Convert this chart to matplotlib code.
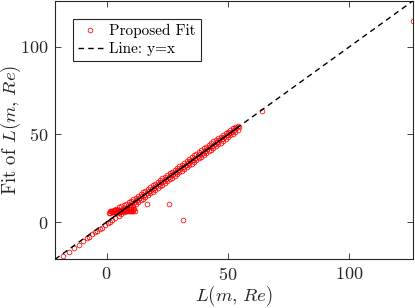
import matplotlib
matplotlib.use("Agg")
import matplotlib.pyplot as plt
import numpy as np

plt.rcParams['font.family'] = 'serif'
plt.rcParams['font.serif'] = ['cmr10']
plt.rcParams['mathtext.fontset'] = 'cm'
plt.rcParams['axes.formatter.use_mathtext'] = True

# ---- data ----
tail_x = [-21.2, -17.9, -15.7, -13.5, -11.4, -9.7, -8.2, -7.1, -5.9, -4.8, -4.0, -2.9, -1.8, -0.7, 0.4, 1.4, 2.3, 3.4]
tail_y = [-21.6, -19.5, -17.2, -14.9, -13.0, -11.1, -9.4, -8.4, -7.1, -5.9, -5.2, -4.2, -3.3, -1.9, -0.8, 0.2, 1.1, 2.3]

spray_low_x = [1.0, 1.5, 2.0, 2.5, 3.0, 3.5, 4.0, 4.5, 5.0, 5.5, 6.0, 6.5, 7.0, 7.5, 8.0, 8.5, 9.0, 9.5, 10.0, 10.5, 11.0, 11.5]
spray_low_y = [5.4, 5.3, 5.5, 5.6, 5.7, 5.8, 5.9, 5.9, 6.0, 6.0, 6.1, 6.1, 6.1, 6.2, 6.2, 6.2, 6.3, 6.3, 6.3, 6.3, 6.4, 6.4]
spray_mid_x = [1.2, 1.8, 2.4, 3.0, 3.6, 4.2, 4.8, 5.4, 6.0, 6.6, 7.2, 7.8, 8.4, 9.0, 9.6, 10.2, 10.8, 11.4]
spray_mid_y = [6.2, 6.4, 6.5, 6.7, 6.8, 6.9, 7.0, 7.0, 7.1, 7.1, 7.2, 7.2, 7.2, 7.3, 7.3, 7.3, 7.4, 7.4]

band_up_x = [4, 5, 6, 7, 8, 9, 10, 11, 12, 13, 14, 15, 16, 17, 18, 19, 20, 21, 22, 23, 24, 25, 26, 27, 28, 29,
             30, 31, 32, 33, 34, 35, 36, 37, 38, 39, 40, 41, 42, 43, 44, 45, 46, 47, 48, 49, 50, 51, 52, 53, 54]
band_up_y = [7.6, 8.3, 9.0, 9.7, 10.4, 11.2, 12.0, 12.9, 13.9, 14.9, 15.9, 16.9, 17.9, 18.9, 19.9, 20.9, 21.9, 22.9,
             23.9, 24.9, 25.8, 26.8, 27.8, 28.8, 29.8, 30.8, 31.8, 32.8, 33.8, 34.8, 35.8, 36.9, 38.0, 39.0, 40.1,
             41.1, 42.1, 43.1, 44.1, 45.0, 46.0, 46.9, 47.9, 48.8, 49.8, 50.7, 51.6, 52.5, 53.4, 54.2, 54.9]
band_mid_x = [4.5, 5.5, 6.5, 7.5, 8.5, 9.5, 10.5, 11.5, 12.5, 13.5, 14.5, 15.5, 16.5, 17.5, 18.5, 19.5, 20.5, 21.5,
              22.5, 23.5, 24.5, 25.5, 26.5, 27.5, 28.5, 29.5, 30.5, 31.5, 32.5, 33.5, 34.5, 35.5, 36.5, 37.5, 38.5,
              39.5, 40.5, 41.5, 42.5, 43.5, 44.5, 45.5, 46.5, 47.5, 48.5, 49.5, 50.5, 51.5, 52.5, 53.5, 54.5]
band_mid_y = [5.2, 6.0, 6.9, 7.8, 8.7, 9.6, 10.6, 11.6, 12.6, 13.6, 14.6, 15.6, 16.6, 17.6, 18.6, 19.6, 20.6, 21.6,
              22.6, 23.6, 24.6, 25.6, 26.6, 27.6, 28.6, 29.6, 30.6, 31.6, 32.6, 33.6, 34.6, 35.6, 36.6, 37.6, 38.6,
              39.6, 40.6, 41.6, 42.6, 43.6, 44.6, 45.6, 46.6, 47.6, 48.6, 49.6, 50.6, 51.6, 52.6, 53.5, 54.3]
band_low_x = [5, 6, 7, 8, 9, 10, 11, 12, 13, 14, 15, 16, 17, 18, 19, 20, 21, 22, 23, 24, 25, 26, 27, 28, 29,
              30, 31, 32, 33, 34, 35, 36, 37, 38, 39, 40, 41, 42, 43, 44, 45, 46, 47, 48, 49, 50, 51, 52, 53, 54]
band_low_y = [3.6, 4.6, 5.5, 6.5, 7.4, 8.4, 9.4, 10.4, 11.4, 12.4, 13.4, 14.4, 15.4, 16.4, 17.4, 18.4, 19.4, 20.4,
              21.4, 22.4, 23.4, 24.4, 25.4, 26.4, 27.4, 28.4, 29.4, 30.4, 31.4, 32.4, 33.4, 34.4, 35.4, 36.4, 37.4,
              38.4, 39.4, 40.4, 41.4, 42.4, 43.4, 44.4, 45.4, 46.4, 47.4, 48.4, 49.5, 50.5, 51.5, 52.6]

outlier_x = [16.6, 25.7, 31.4, 64.1, 126.2]
outlier_y = [10.5, 10.5, 1.1, 63.1, 114.7]

ax_limits = [-21.3, 126.4]
xticks = [0, 50, 100]
yticks = [0, 50, 100]

x_all = np.concatenate([tail_x, spray_low_x, spray_mid_x, band_up_x, band_mid_x, band_low_x, outlier_x])
y_all = np.concatenate([tail_y, spray_low_y, spray_mid_y, band_up_y, band_mid_y, band_low_y, outlier_y])

band_all_x = np.concatenate([band_up_x, band_mid_x, band_low_x])

dark = (0.15, 0.15, 0.15)

fig = plt.figure(figsize=(4.15, 3.08), dpi=100)
ax = fig.add_axes([0.1325, 0.158, 0.8635, 0.840])

ax.plot(x_all, y_all, 'o', mfc='none', mec=(1, 0, 0), ms=3.4, mew=0.55, label='Proposed Fit', zorder=2)
ax.plot(ax_limits, ax_limits, '--', color='k', lw=1.0, dashes=(4, 3), label='Line: y=x', zorder=3)
ax.plot([0.0, band_all_x.max()], [0.0, band_all_x.max()], '-', color='k', lw=1.0, zorder=3)

ax.set_xlim(ax_limits)
ax.set_ylim(ax_limits)
ax.set_xticks(xticks)
ax.set_yticks(yticks)
ax.tick_params(direction='in', top=True, right=True, length=4, width=0.6, labelsize=13, colors=dark, pad=5)
for s in ax.spines.values():
    s.set_color(dark)
    s.set_linewidth(0.8)

ax.set_xlabel(r'$L(m,\,Re)$', fontsize=13.5, color=dark)
ax.set_ylabel(r'Fit of $L(m,\,Re)$', fontsize=13.5, color=dark)
ax.xaxis.set_label_coords(0.5, -0.093)
ax.yaxis.set_label_coords(-0.090, 0.5)

leg = ax.legend(loc='upper left', bbox_to_anchor=(0.05, 0.93), fontsize=11, frameon=True, fancybox=False,
                edgecolor=dark, framealpha=1, handlelength=1.6, handletextpad=0.4,
                borderpad=0.35, labelspacing=0.25, borderaxespad=0)
leg.get_frame().set_linewidth(0.8)

fig.savefig('out.png', dpi=100)
